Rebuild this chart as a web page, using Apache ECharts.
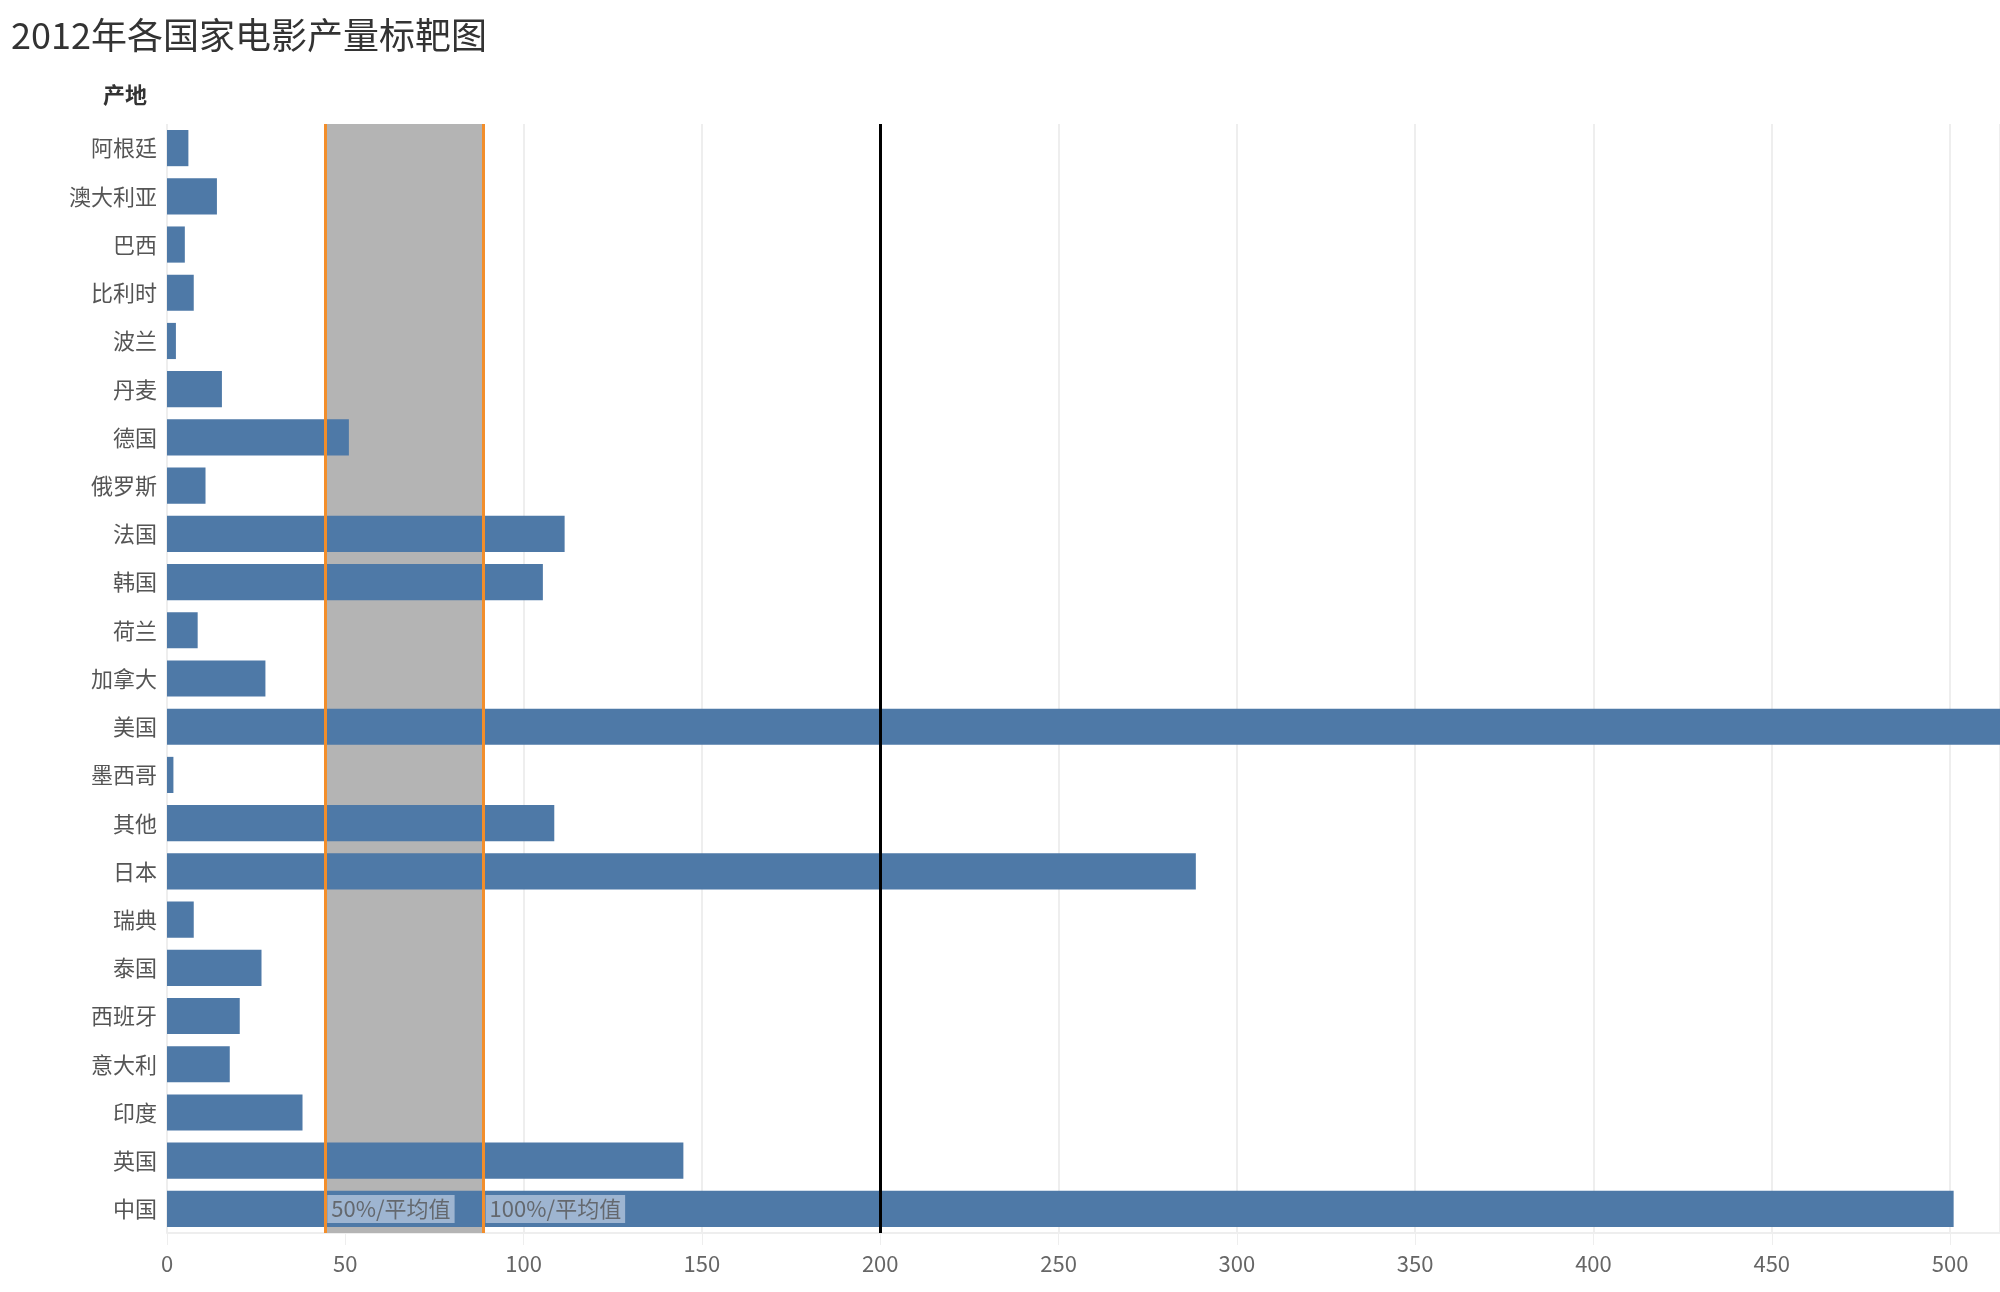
<!DOCTYPE html>
<html>
<head>
<meta charset="utf-8">
<script src="https://cdn.jsdelivr.net/npm/echarts@6/dist/echarts.min.js"></script>
<style>
  html, body { margin: 0; padding: 0; background: #fff; }
  #main { width: 2000px; height: 1292px; }
</style>
</head>
<body>
<div id="main"></div>
<script>
// 产地
var countries = ['阿根廷', '澳大利亚', '巴西', '比利时', '波兰', '丹麦', '德国', '俄罗斯', '法国', '韩国', '荷兰', '加拿大',
  '美国', '墨西哥', '其他', '日本', '瑞典', '泰国', '西班牙', '意大利', '印度', '英国', '中国'];
// 电影产量
var films = [6, 14, 5, 7.5, 2.5, 15.4, 51, 10.8, 111.5, 105.4, 8.6, 27.6,
  522, 1.8, 108.6, 288.5, 7.5, 26.5, 20.4, 17.6, 38, 144.8, 501];
var target = 200; // 目标线
var xTicks = [0, 50, 100, 150, 200, 250, 300, 350, 400, 450, 500];

var avg = films.reduce(function (a, b) { return a + b; }, 0) / films.length;
var half = avg / 2;

var font = '"Noto Sans CJK SC", "Noto Sans", sans-serif';
var chart = echarts.init(document.getElementById('main'));

var labelStyle = {
  show: true,
  position: 'right',
  distance: 2,
  fontSize: 22,
  fontFamily: font,
  color: '#555',
  backgroundColor: 'rgba(196,210,228,0.85)',
  padding: [4, 4, 2, 4]
};

var option = {
  animation: false,
  textStyle: { fontFamily: font },
  title: {
    text: '2012年各国家电影产量标靶图',
    left: 6, top: 12,
    textStyle: { fontSize: 36, fontWeight: 'normal', color: '#333', fontFamily: font }
  },
  grid: { left: 167, right: 0, top: 124, bottom: 59 },
  xAxis: {
    type: 'value',
    min: 0, max: 514, interval: 50,
    axisLine: { show: true, lineStyle: { color: '#eee', width: 2 } },
    axisTick: { show: true, length: 12, lineStyle: { color: '#eee' } },
    splitLine: { show: true, lineStyle: { color: '#eee', width: 2 } },
    axisLabel: {
      fontSize: 22, color: '#666', margin: 20, fontFamily: font,
      showMaxLabel: false,
      formatter: function (v) { return xTicks.indexOf(v) >= 0 ? String(v) : ''; }
    }
  },
  yAxis: {
    type: 'category',
    data: countries,
    inverse: true,
    name: '产地',
    nameLocation: 'start',
    nameGap: 18,
    nameTextStyle: { fontSize: 22, fontWeight: 'bold', color: '#333', align: 'right', padding: [0, 20, 0, 0] },
    axisLine: { show: false },
    axisTick: { show: false },
    axisLabel: { fontSize: 22, color: '#555', margin: 10, fontFamily: font }
  },
  series: [
    {
      type: 'bar',
      data: films,
      barCategoryGap: '25%',
      itemStyle: { color: '#4e79a7' },
      z: 3,
      markArea: {
        silent: true,
        itemStyle: { color: '#b4b4b4' },
        data: [[{ xAxis: half }, { xAxis: avg }]],
        z: 1
      },
      markLine: {
        silent: true,
        symbol: 'none',
        label: { show: false },
        data: [
          { xAxis: half, lineStyle: { color: '#f28e2b', width: 3, type: 'solid' } },
          { xAxis: avg, lineStyle: { color: '#f28e2b', width: 3, type: 'solid' } },
          { xAxis: target, lineStyle: { color: '#000', width: 3, type: 'solid' } }
        ]
      }
    },
    {
      type: 'scatter',
      symbolSize: 0,
      z: 5,
      data: [
        { value: [half, '中国'], label: Object.assign({}, labelStyle, { formatter: '50%/平均值' }) },
        { value: [avg, '中国'], label: Object.assign({}, labelStyle, { formatter: '100%/平均值' }) }
      ]
    }
  ]
};
chart.setOption(option);
</script>
</body>
</html>
